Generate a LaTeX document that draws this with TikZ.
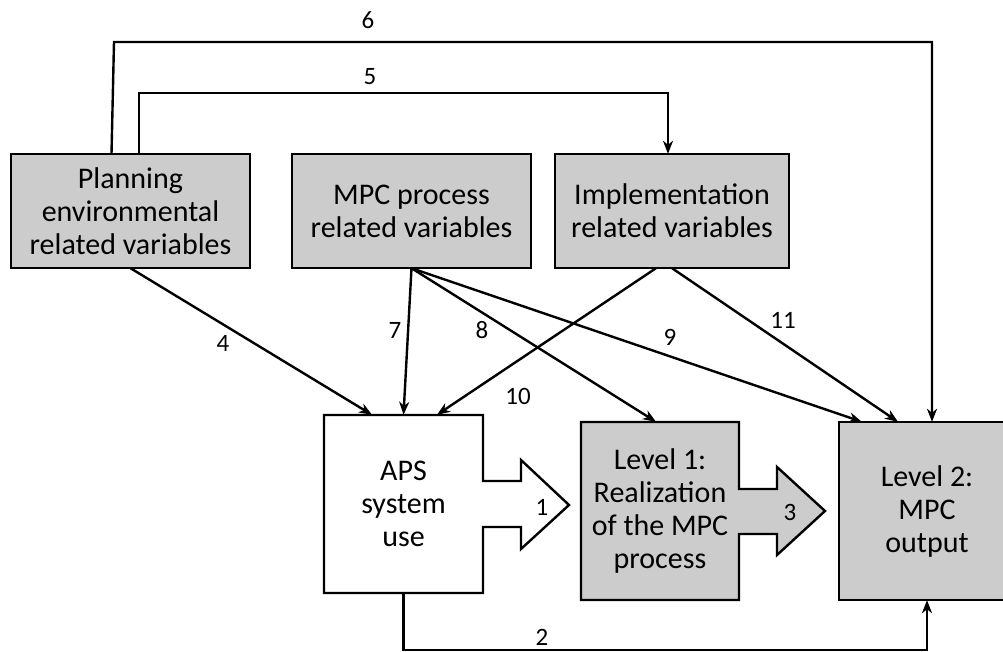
\documentclass[tikz,border=0pt]{standalone}
\usepackage{fontspec}
\setmainfont{Carlito}
\usetikzlibrary{arrows.meta,calc}
\definecolor{boxgray}{RGB}{204,204,204}
\tikzset{
  boxtext/.style={draw=none,align=center,inner sep=0pt,font=\fontsize{30}{33}\selectfont},
  outline/.style={draw=black,line width=2.4pt,line join=miter},
  conn/.style={draw=black,line width=2.4pt,-{Stealth[length=13pt,width=10pt,inset=4pt]}},
  lbl/.style={inner sep=0pt,font=\fontsize{25}{27}\selectfont}
}
\begin{document}
\begin{tikzpicture}[x=1pt,y=-1pt]
\useasboundingbox (0,0) rectangle (1003,652);
\clip (0,0) rectangle (1003,652);
% top boxes
\draw[outline,fill=boxgray] (11,154) rectangle (250,268);
\node[boxtext,minimum width=239pt,minimum height=114pt] (plan) at (130.5,211) {Planning\\environmental\\related variables};
\draw[outline,fill=boxgray] (292,154) rectangle (531,268);
\node[boxtext,minimum width=239pt,minimum height=114pt] (mpc) at (411.5,211) {MPC process\\related variables};
\draw[outline,fill=boxgray] (555,154) rectangle (789,268);
\node[boxtext,minimum width=234pt,minimum height=114pt] (impl) at (672,211) {Implementation\\related variables};
% APS box with block arrow
\draw[outline,fill=white] (324,415) -- (483,415) -- (483,481) -- (521,481) -- (521,460) -- (569,505) -- (521,549) -- (521,527) -- (483,527) -- (483,593) -- (324,593) -- cycle;
\node[boxtext,minimum width=159pt,minimum height=178pt] (aps) at (403.5,504) {APS\\system\\use};
% Level 1 with block arrow
\draw[outline,fill=boxgray] (581,422) -- (739,422) -- (739,489) -- (777,489) -- (777,467) -- (825,511) -- (777,555) -- (777,534) -- (739,534) -- (739,600) -- (581,600) -- cycle;
\node[boxtext,minimum width=158pt,minimum height=178pt] (lone) at (660,511) {Level 1:\\Realization\\of the MPC\\process};
% Level 2
\draw[outline,fill=boxgray] (839,422) rectangle (1015,600);
\node[boxtext,minimum width=176pt,minimum height=178pt] (ltwo) at (927,511) {Level 2:\\MPC\\output};
% connectors
\coordinate (c6a) at (114,42);
\coordinate (c6b) at (932,42);
\draw[conn] ([xshift=-19pt]plan.north) -- (c6a) -- (c6b) -- ([xshift=5pt]ltwo.north);
\coordinate (c5a) at (139,93);
\coordinate (c5b) at (668,93);
\draw[conn] ([xshift=8.5pt]plan.north) -- (c5a) -- (c5b) -- ([xshift=-4pt]impl.north);
\draw[conn] (plan.south) -- ([xshift=-31.5pt]aps.north);
\draw[conn] (mpc.south) -- (aps.north);
\draw[conn] (mpc.south) -- ([xshift=-4pt]lone.north);
\draw[conn] (mpc.south) -- ([xshift=23pt]ltwo.north west);
\draw[conn] ([xshift=-16pt]impl.south) -- ([xshift=33.5pt]aps.north);
\draw[conn] (impl.south) -- ([xshift=-29pt]ltwo.north);
\coordinate (c2a) at (403.5,650);
\coordinate (c2b) at (927,650);
\draw[conn] (aps.south) -- (c2a) -- (c2b) -- (ltwo.south);
% labels
\node[lbl] (l6) at (368,20) {6};
\node[lbl] (l5) at (370,77) {5};
\node[lbl] (l4) at (223,343) {4};
\node[lbl] (l7) at (395,330) {7};
\node[lbl] (l8) at (482,330) {8};
\node[lbl] (l9) at (670,337) {9};
\node[lbl] (l10) at (518,396) {10};
\node[lbl] (l11) at (783,320) {11};
\node[lbl] (l1) at (542,507) {1};
\node[lbl] (l3) at (790,512) {3};
\node[lbl] (l2) at (542,637) {2};
\end{tikzpicture}
\end{document}
